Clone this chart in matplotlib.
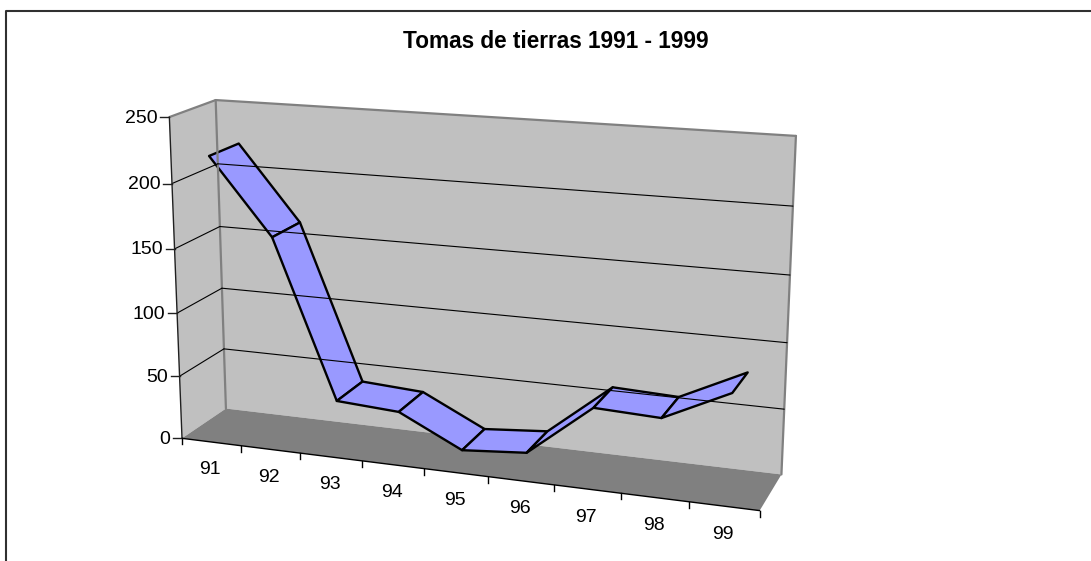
import numpy as np
import matplotlib
matplotlib.use('Agg')
import matplotlib.pyplot as plt

plt.rcParams['font.family'] = ['Liberation Sans', 'DejaVu Sans']

title = "Tomas de tierras 1991 - 1999"
years = ['91', '92', '93', '94', '95', '96', '97', '98', '99']
tomas = [220, 162, 40, 37, 13, 17, 57, 55, 79]
y_ticks = [0, 50, 100, 150, 200, 250]
y_max = 250

band_front = 0.17
band_back = 0.83

# corners of the 3d box: (x, y, z) in 0-1 box units and where they land in the image
box_corners = [(0, 0, 0), (0, 1, 0), (0, 0, 1), (0, 1, 1), (1, 0, 1), (1, 1, 1), (1, 0, 0)]
box_pixels = [(182, 439), (170, 116), (226, 408), (215, 101), (782, 474), (796, 136), (759, 511)]


#fit the camera of the excel 3d view
def fit_camera(corners, pixels):
    A, b = [], []
    for (x, y, z), (u, v) in zip(corners, pixels):
        A.append([x, y, z, 1, 0, 0, 0, 0, -u*x, -u*y, -u*z])
        A.append([0, 0, 0, 0, x, y, z, 1, -v*x, -v*y, -v*z])
        b += [u, v]
    p = np.linalg.lstsq(np.array(A, float), np.array(b, float), rcond=None)[0]
    return np.append(p, 1).reshape(3, 4)


P = fit_camera(box_corners, box_pixels)


def project(x, y, z):
    u, v, w = P @ np.array([x, y, z, 1.0])
    return u/w, v/w


def poly(ax, pts, **kw):
    ax.fill(*zip(*[project(*p) for p in pts]), **kw)


def line(ax, a, b, **kw):
    pa, pb = project(*a), project(*b)
    ax.plot([pa[0], pb[0]], [pa[1], pb[1]], solid_capstyle='round', **kw)


fig = plt.figure(figsize=(10.91, 5.61), dpi=100)
ax = fig.add_axes([0, 0, 1, 1])
ax.set_xlim(0, 1091)
ax.set_ylim(561, 0)
ax.axis('off')

# chart frame, runs off the right and bottom of the image
ax.plot([5.5, 5.5, 1091], [561, 10.5, 10.5], color='#303030', lw=1.5)

ax.text(555.5, 41, title, fontsize=16.3, fontweight='bold', ha='center', va='center')

# walls and floor
poly(ax, [(0, 0, 1), (0, 1, 1), (1, 1, 1), (1, 0, 1)], facecolor='#c0c0c0', edgecolor='none')
poly(ax, [(0, 0, 0), (0, 1, 0), (0, 1, 1), (0, 0, 1)], facecolor='#c0c0c0', edgecolor='none')
poly(ax, [(0, 0, 0), (0, 0, 1), (1, 0, 1), (1, 0, 0)], facecolor='#808080', edgecolor='none')

for a, b in [((0, 1, 0), (0, 1, 1)), ((0, 1, 1), (1, 1, 1)), ((0, 1, 1), (0, 0, 1)),
             ((1, 1, 1), (1, 0, 1))]:
    line(ax, a, b, color='#808080', lw=1.6)

# gridlines on both walls
for t in y_ticks[1:-1]:
    h = t/y_max
    line(ax, (0, h, 0), (0, h, 1), color='black', lw=0.8)
    line(ax, (0, h, 1), (1, h, 1), color='black', lw=0.8)

# the two axes and their ticks
line(ax, (0, 0, 0), (0, 1, 0), color='#202020', lw=1.0)
line(ax, (0, 0, 0), (1, 0, 0), color='black', lw=1.0)

for t in y_ticks:
    px, py = project(0, t/y_max, 0)
    ax.plot([px-9, px], [py, py], color='#202020', lw=1.0)
    ax.text(px-11.5, py+1, str(t), fontsize=14, ha='right', va='center')

for i in range(len(years)+1):
    px, py = project(i/len(years), 0, 0)
    ax.plot([px, px], [py, py+6], color='black', lw=1.0)

for i, lab in enumerate(years):
    px, py = project((i+0.5)/len(years), 0, 0)
    ax.text(px-1, py+28, lab, fontsize=14, ha='center', va='center')

# the ribbon, one flat piece per pair of years
for i in range(len(tomas)-1):
    x0, x1 = (i+0.5)/len(years), (i+1.5)/len(years)
    y0, y1 = tomas[i]/y_max, tomas[i+1]/y_max
    poly(ax, [(x0, y0, band_front), (x0, y0, band_back), (x1, y1, band_back), (x1, y1, band_front)],
         facecolor='#9999ff', edgecolor='black', linewidth=1.7, joinstyle='round')

fig.savefig('out.png', dpi=100)
